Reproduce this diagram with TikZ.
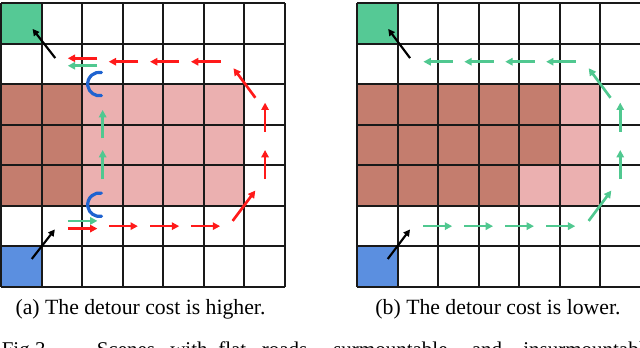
\documentclass[tikz,border=0pt]{standalone}
\usepackage{fontspec}
\setmainfont{Liberation Serif}
\usetikzlibrary{arrows.meta}
\definecolor{cgreen}{HTML}{55C995}
\definecolor{cblue}{HTML}{5B8FE0}
\definecolor{cdark}{HTML}{C47D6E}
\definecolor{clight}{HTML}{EBB0B0}
\definecolor{ared}{HTML}{FF1A1A}
\definecolor{agreen}{HTML}{50C890}
\definecolor{carc}{HTML}{1F63D0}
\begin{document}
\begin{tikzpicture}[x=0.75pt,y=-0.75pt,
  gridline/.style={line width=1.5pt, draw=black!90},
  redarrow/.style={draw=ared, line width=2pt, -{Triangle[length=5.5pt,width=5.5pt]}},
  greenarrow/.style={draw=agreen, line width=2pt, -{Triangle[length=5.5pt,width=5.5pt]}},
  blackarrow/.style={draw=black, line width=1.6pt, -{Triangle[length=5pt,width=5pt]}},
  blockarc/.style={draw=carc, line width=2.4pt, line cap=round},
  captext/.style={font=\fontsize{16.3}{19}\selectfont, anchor=base, inner sep=0pt},
  figtext/.style={font=\fontsize{15.75}{19}\selectfont, anchor=base west, inner sep=0pt}]
\useasboundingbox (0,0) rectangle (640,347);
\clip (0,0) rectangle (640,347);
\fill[white] (0,0) rectangle (640,347);
% ---------- left grid ----------
\begin{scope}[shift={(1,3)}, x=30.375pt, y=-30.375pt]
  \fill[cgreen] (0,0) rectangle (1,1);
  \fill[cblue] (0,6) rectangle (1,7);
  \fill[cdark] (0,2) rectangle (2,5);
  \fill[clight] (2,2) rectangle (6,5);
  \foreach \i in {0,...,7} {
    \draw[gridline] (\i,0) -- (\i,7);
    \draw[gridline] (0,\i) -- (7,\i);
  }
  \draw[redarrow] (2.38,1.365) -- (1.65,1.365);
  \draw[greenarrow] (2.38,1.55) -- (1.65,1.55);
  \foreach \a/\b in {3.39/2.66, 4.40/3.68, 5.42/4.69}
    \draw[redarrow] (\a,1.45) -- (\b,1.45);
  \draw[redarrow] (6.28,2.34) -- (5.74,1.61);
  \draw[redarrow] (6.52,3.18) -- (6.52,2.46);
  \draw[redarrow] (6.52,4.35) -- (6.52,3.63);
  \draw[redarrow] (5.72,5.38) -- (6.28,4.63);
  \foreach \a/\b in {2.67/3.38, 3.68/4.40, 4.69/5.41}
    \draw[redarrow] (\a,5.51) -- (\b,5.51);
  \draw[greenarrow] (1.65,5.38) -- (2.38,5.38);
  \draw[redarrow] (1.65,5.57) -- (2.38,5.57);
  \draw[greenarrow] (2.51,4.35) -- (2.51,3.63);
  \draw[greenarrow] (2.51,3.34) -- (2.51,2.64);
  \draw[blockarc] ([shift={(80:0.29)}]2.43,2.0) arc[start angle=80,end angle=280,radius=0.29];
  \draw[blockarc] ([shift={(80:0.29)}]2.43,4.98) arc[start angle=80,end angle=280,radius=0.29];
  \draw[blackarrow] (1.34,1.36) -- (0.78,0.64);
  \draw[blackarrow] (0.76,6.32) -- (1.33,5.59);
\end{scope}
% ---------- right grid ----------
\begin{scope}[shift={(357,3)}, x=30.375pt, y=-30.375pt]
  \fill[cgreen] (0,0) rectangle (1,1);
  \fill[cblue] (0,6) rectangle (1,7);
  \fill[cdark] (0,2) rectangle (5,4);
  \fill[cdark] (0,4) rectangle (4,5);
  \fill[clight] (5,2) rectangle (6,5);
  \fill[clight] (4,4) rectangle (5,5);
  \foreach \i in {0,...,7} {
    \draw[gridline] (\i,0) -- (\i,7);
    \draw[gridline] (0,\i) -- (7,\i);
  }
  \foreach \a/\b in {2.37/1.64, 3.38/2.65, 4.39/3.66, 5.40/4.67}
    \draw[greenarrow] (\a,1.45) -- (\b,1.45);
  \draw[greenarrow] (6.26,2.34) -- (5.72,1.61);
  \draw[greenarrow] (6.50,3.18) -- (6.50,2.46);
  \draw[greenarrow] (6.50,4.35) -- (6.50,3.63);
  \draw[greenarrow] (5.72,5.38) -- (6.28,4.63);
  \foreach \a/\b in {1.63/2.35, 2.65/3.36, 3.66/4.37, 4.67/5.39}
    \draw[greenarrow] (\a,5.51) -- (\b,5.51);
  \draw[blackarrow] (1.31,1.36) -- (0.77,0.64);
  \draw[blackarrow] (0.76,6.32) -- (1.31,5.59);
\end{scope}
% ---------- captions ----------
\node[captext] (capa) at (140.5,314) {(a) The detour cost is higher.};
\node[captext] (capb) at (498,314) {(b) The detour cost is lower.};
\node[figtext] (w1) at (1.5,356) {Fig 3};
\node[figtext] (w2) at (96.5,356) {Scenes};
\node[figtext] (w3) at (170,356) {with};
\node[figtext] (w4) at (218,356) {flat};
\node[figtext] (w5) at (261.5,356) {roads,};
\node[figtext] (w6) at (333,356) {surmountable};
\node[figtext] (w7) at (471.5,356) {and};
\node[figtext] (w8) at (523,356) {insurmountable};
\end{tikzpicture}
\end{document}
